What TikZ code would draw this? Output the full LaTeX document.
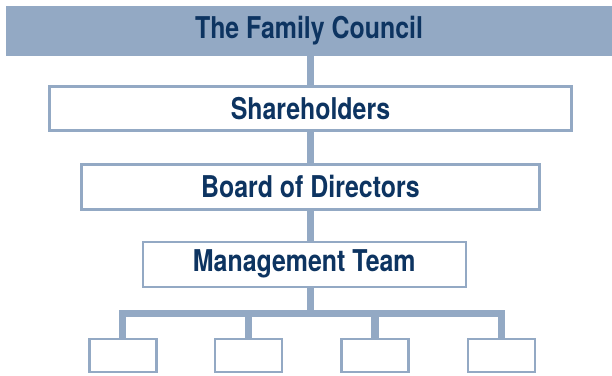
\documentclass[tikz,border=0pt]{standalone}
\usepackage{fontspec}
\newfontfamily\orgfont{TeX Gyre Heros}[FakeStretch=0.83]
\definecolor{steel}{HTML}{93A9C4}
\definecolor{navy}{HTML}{0D3461}
\begin{document}
\begin{tikzpicture}[x=1pt,y=-1pt,
  every node/.style={inner sep=0pt,outer sep=0pt},
  labeltext/.style={font=\orgfont\bfseries\fontsize{30}{36}\selectfont,text=navy},
  orgbox/.style={draw=steel,line width=2.6pt,fill=white,labeltext},
  leafbox/.style={orgbox,minimum width=67pt,minimum height=33pt},
  link/.style={draw=steel,line width=7.5pt,line join=miter}]
  \useasboundingbox (0,0) rectangle (612,375);
  % header band
  \node[fill=steel,minimum width=606pt,minimum height=49.7pt,labeltext] (council) at (309,30.85) {The Family Council};
  % governance levels
  \node[orgbox,minimum width=522pt,minimum height=44pt] (share) at (310.5,108.3) {Shareholders};
  \node[orgbox,minimum width=458pt,minimum height=45pt] (board) at (310.4,186.9) {Board of Directors};
  \node[orgbox,minimum width=323pt,minimum height=45pt] (mgmt) at (304.3,264.3) {Management Team};
  % empty units below management
  \node[leafbox] (u1) at (122.7,355.5) {};
  \node[leafbox] (u2) at (248.3,355.5) {};
  \node[leafbox] (u3) at (375,355.5) {};
  \node[leafbox] (u4) at (501.3,355.5) {};
  \coordinate (bus) at (310.5,313.6);
  % vertical spine
  \path[link] (310.5,0 |- council.south) -- (310.5,0 |- share.north);
  \path[link] (310.5,0 |- share.south) -- (310.5,0 |- board.north);
  \path[link] (310.5,0 |- board.south) -- (310.5,0 |- mgmt.north);
  \path[link] (310.5,0 |- mgmt.south) -- (bus);
  % branch bus
  \path[link] (u1.north) |- (bus) -| (u4.north);
  \path[link] (u2.north) -- (u2.north |- bus);
  \path[link] (u3.north) -- (u3.north |- bus);
\end{tikzpicture}
\end{document}
